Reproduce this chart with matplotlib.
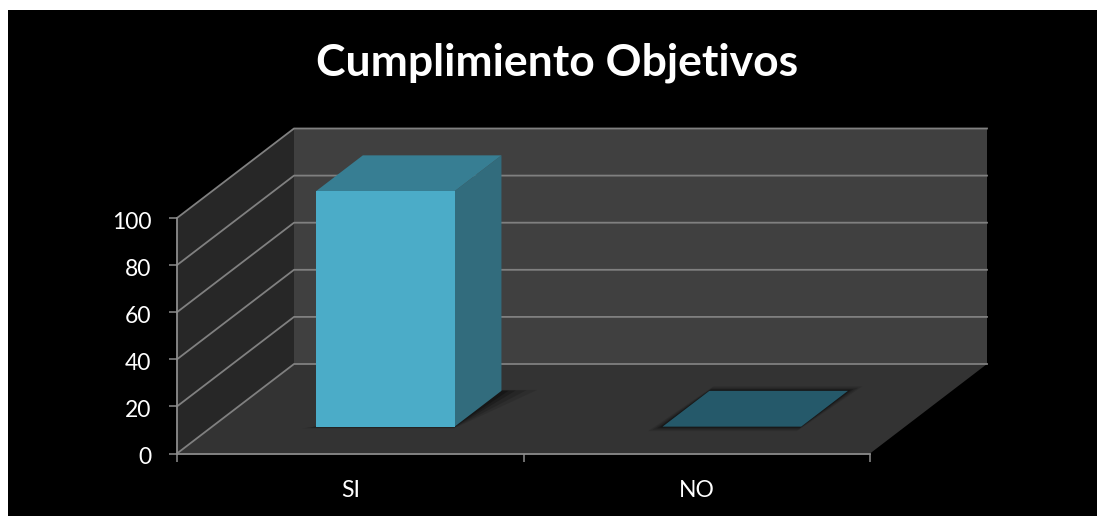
import matplotlib
matplotlib.use("Agg")
import matplotlib.pyplot as plt
from matplotlib.patches import Rectangle, Polygon
from matplotlib.transforms import ScaledTranslation

categories = ["SI", "NO"]
values = [100, 0]
y_ticks = [0, 20, 40, 60, 80, 100]
title = "Cumplimiento Objetivos"

W, H = 1097, 516
L, R, T, B = 177, 870, 218, 453.5
DX = 117 / ((R - L) / 2)      # depth offset, x data units
DY = 89.5 / ((B - T) / 100)   # depth offset, y data units
D0, D1 = 0.30, 0.70           # bar depth range
BAR_L, BAR_R = 0.30, 0.70     # bar extent inside a category

plt.rcParams["font.family"] = ["Lato", "DejaVu Sans"]
fig = plt.figure(figsize=(W / 100, H / 100), dpi=100, facecolor="white")
fig.add_artist(Rectangle((8 / W, 0), 1 - 8 / W, 1 - 10 / H, transform=fig.transFigure,
                         facecolor="black", edgecolor="none", zorder=-10))
ax = fig.add_axes([L / W, 1 - B / H, (R - L) / W, (B - T) / H])
ax.patch.set_visible(False)
ax.set_xlim(0, 2)
ax.set_ylim(0, 100)


def pr(x, d, v):
    return (x + d * DX, v + d * DY)


def poly(pts, color, z, **kw):
    ax.add_patch(Polygon(pts, closed=True, facecolor=color, edgecolor=kw.pop("ec", "none"),
                         linewidth=kw.pop("lw", 0), clip_on=False, zorder=z, **kw))


n = len(categories)
ymax = y_ticks[-1]
poly([pr(0, 1, 0), pr(n, 1, 0), pr(n, 1, ymax), pr(0, 1, ymax)], "#404040", 1)
poly([pr(0, 0, 0), pr(0, 1, 0), pr(0, 1, ymax), pr(0, 0, ymax)], "#272727", 1)
poly([pr(0, 0, 0), pr(n, 0, 0), pr(n, 1, 0), pr(0, 1, 0)], "#333333", 1)

for t in y_ticks:
    a, b, c = pr(0, 0, t), pr(0, 1, t), pr(n, 1, t)
    ax.plot([a[0], b[0], c[0]], [a[1], b[1], c[1]], color="#808080", lw=1.3,
            clip_on=False, zorder=2)

for i, v in enumerate(values):
    x0, x1 = i + BAR_L, i + BAR_R
    # soft shadow on the floor
    for g, al in [(1.0, 0.10), (0.7, 0.14), (0.4, 0.2), (0.2, 0.25)]:
        if v > 0:
            shadow = [pr(x0 - 0.035 * g, D0 - 0.02 * g, 0), pr(x1 + 0.005 * g, D0 - 0.02 * g, 0),
                      pr(x1 + 0.10 * g, D1 + 0.01 * g, 0), pr(x1, D1 + 0.01 * g, 0), pr(x0, D0, 0)]
        else:
            shadow = [pr(x0 - 0.025 * g, D0 - 0.05 * g, 0), pr(x1 + 0.005 * g, D0 - 0.05 * g, 0),
                      pr(x1 + 0.025 * g, D1 + 0.05 * g, 0), pr(x0 - 0.005 * g, D1 + 0.05 * g, 0)]
        poly(shadow, "black", 3, alpha=al)
    if v > 0:
        poly([pr(x1, D0, 0), pr(x1, D1, 0), pr(x1, D1, v), pr(x1, D0, v)], "#326C7D", 4)
        poly([pr(x0, D0, v), pr(x1, D0, v), pr(x1, D1, v), pr(x0, D1, v)], "#377E93", 4)
        poly([pr(x0, D0, 0), pr(x1, D0, 0), pr(x1, D0, v), pr(x0, D0, v)], "#4BACC8", 5)
    else:
        poly([pr(x0, D0, 0), pr(x1, D0, 0), pr(x1, D1, 0), pr(x0, D1, 0)], "#25596A", 4)

for s in ("top", "right"):
    ax.spines[s].set_visible(False)
for s in ("left", "bottom"):
    ax.spines[s].set_color("#8c8c8c")
    ax.spines[s].set_linewidth(1.3)
    ax.spines[s].set_zorder(6)

ax.set_yticks(y_ticks)
ax.set_xticks(range(n + 1))
ax.set_xticklabels([])
ax.set_xticks([i + 0.5 for i in range(n)], minor=True)
ax.set_xticklabels(categories, minor=True)
ax.tick_params(axis="y", colors="#8c8c8c", labelcolor="white", length=6, width=1.1, labelsize=16.5, pad=12.5)
ax.tick_params(axis="x", which="major", colors="#8c8c8c", length=6, width=1.1)
ax.tick_params(axis="x", which="minor", length=0, labelcolor="white", labelsize=16.5, pad=19)
shift = ScaledTranslation(0, -2 / 100, fig.dpi_scale_trans)
for lab in ax.get_yticklabels():
    lab.set_transform(lab.get_transform() + shift)

fig.text(557.5 / W, 1 - 63 / H, title, color="white", fontsize=32, fontweight="bold",
         ha="center", va="center")
fig.savefig("out.png", dpi=100, facecolor="white")
